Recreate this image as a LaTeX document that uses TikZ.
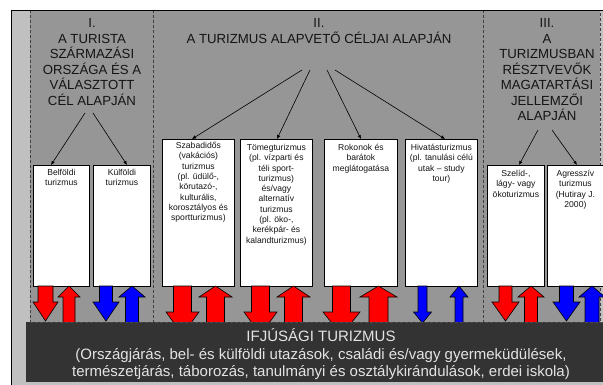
\documentclass[tikz,border=0pt]{standalone}
\usepackage{fontspec}
\setmainfont{Liberation Sans}
\usetikzlibrary{arrows.meta,calc}
\definecolor{lightbg}{HTML}{C0C0C0}
\definecolor{panelgray}{HTML}{969696}
\definecolor{darkbox}{HTML}{333333}
\definecolor{lighttext}{HTML}{E4E4E4}
\definecolor{inktext}{HTML}{141414}
\definecolor{arrred}{HTML}{FF0000}
\definecolor{arrblue}{HTML}{0000FF}
\newcommand\blkdown[6]{%
  \filldraw[fill=#6,draw=black,line width=0.6pt]
    (#1-#2,286) -- (#1-#2,#4) -- (#1-#3,#4) -- (#1,#5) -- (#1+#3,#4) -- (#1+#2,#4) -- (#1+#2,286) -- cycle;}
\newcommand\blkup[4]{%
  \filldraw[fill=#4,draw=black,line width=0.6pt]
    (#1,286) -- (#1+#3,297) -- (#1+#2,297) -- (#1+#2,335) -- (#1-#2,335) -- (#1-#2,297) -- (#1-#3,297) -- cycle;}
\tikzset{
  panel/.style={fill=panelgray,draw=black!75,line width=0.6pt,dash pattern=on 3pt off 2pt},
  titletext/.style={font=\fontsize{13.2}{15.5}\selectfont,text=inktext,align=center,inner sep=0pt,anchor=north},
  catbox/.style={draw=black,fill=white,line width=0.8pt,anchor=north west,inner sep=0pt},
  boxtext/.style={font=\fontsize{8.6}{10.3}\selectfont,text=inktext,align=center,inner sep=0pt,anchor=north},
  conn/.style={draw=black,line width=0.6pt,-{Latex[length=4pt,width=3.5pt]}},
}
\begin{document}
\begin{tikzpicture}[x=1pt,y=-1pt]
\useasboundingbox (0,0) rectangle (603,385);
\clip (0,0) rectangle (603,385);
\fill[white] (0,0) rectangle (603,385);
\fill[lightbg] (11,10) rectangle (603,385);
% panels
\path[panel] (30,10) rectangle (153,322);
\path[panel] (153,10) rectangle (483,322);
\path[panel] (483,10) rectangle (600,322);
\draw[black,line width=0.9pt] (11,385) -- (11,10) -- (603,10);
% titles
\node[titletext] (t1) at (92,18.5) {I.\\A TURISTA\\SZÁRMAZÁSI\\ORSZÁGA ÉS A\\VÁLASZTOTT\\CÉL ALAPJÁN};
\node[titletext] (t2) at (319,18.5) {II.\\A TURIZMUS ALAPVETŐ CÉLJAI ALAPJÁN};
\node[titletext] (t3) at (547,18.5) {III.\\A\\TURIZMUSBAN\\RÉSZTVEVŐK\\MAGATARTÁSI\\JELLEMZŐI\\ALAPJÁN};
% boxes
\node[catbox,minimum width=56,minimum height=121] (bel) at (33,165) {};
\node[catbox,minimum width=57,minimum height=121] (kul) at (93,165) {};
\node[catbox,minimum width=72,minimum height=147] (szab) at (162,139) {};
\node[catbox,minimum width=72,minimum height=147] (tom) at (240,139) {};
\node[catbox,minimum width=73,minimum height=147] (rok) at (324,139) {};
\node[catbox,minimum width=72,minimum height=147] (hiv) at (405,139) {};
\node[catbox,minimum width=57,minimum height=121] (szel) at (487,165) {};
\node[catbox,minimum width=56,minimum height=121] (agr) at (547,165) {};
% box texts
\node[boxtext] (belt) at ([yshift=-4pt]bel.north) {Belföldi\\turizmus};
\node[boxtext] (kult) at ([yshift=-4pt]kul.north) {Külföldi\\turizmus};
\node[boxtext] (szabt) at ([yshift=-3pt]szab.north) {Szabadidős\\(vakációs)\\turizmus\\(pl. üdülő-,\\körutazó-,\\kulturális,\\korosztályos és\\sportturizmus)};
\node[boxtext] (tomt) at ([yshift=-5pt]tom.north) {Tömegturizmus\\(pl. vízparti és\\téli sport-\\turizmus)\\és/vagy\\alternatív\\turizmus\\(pl. öko-,\\kerékpár- és\\kalandturizmus)};
\node[boxtext] (rokt) at ([yshift=-5pt]rok.north) {Rokonok és\\barátok\\meglátogatása};
\node[boxtext] (hivt) at ([yshift=-5pt]hiv.north) {Hivatásturizmus\\(pl. tanulási célú\\utak – study\\tour)};
\node[boxtext] (szelt) at ([yshift=-5pt]szel.north) {Szelíd-,\\lágy- vagy\\ökoturizmus};
\node[boxtext] (agrt) at ([yshift=-5pt]agr.north) {Agresszív\\turizmus\\(Hutiray J.\\2000)};
% connectors
\coordinate (s1a) at (85,113);
\coordinate (s1b) at (93,113);
\coordinate (s2a) at (302,70);
\coordinate (s2b) at (310,70);
\coordinate (s2c) at (327,70);
\coordinate (s2d) at (335,70);
\coordinate (s3a) at (538,130);
\coordinate (s3b) at (552,130);
\draw[conn] (s1a) -- ([xshift=18pt]bel.north west);
\draw[conn] (s1b) -- ([xshift=34pt]kul.north west);
\draw[conn] (s2a) -- ([xshift=30pt]szab.north west);
\draw[conn] (s2b) -- ([xshift=37pt]tom.north west);
\draw[conn] (s2c) -- ([xshift=37pt]rok.north west);
\draw[conn] (s2d) -- ([xshift=40pt]hiv.north west);
\draw[conn] (s3a) -- ([xshift=32pt]szel.north west);
\draw[conn] (s3b) -- ([xshift=30pt]agr.north west);
% block arrows
\blkdown{45.5}{7.5}{12.5}{302}{321}{arrred}
\blkup{69}{6}{11}{arrred}
\blkdown{106}{6.5}{13}{302}{321}{arrblue}
\blkup{132}{6.5}{13}{arrblue}
\blkdown{182.5}{9}{16.5}{312}{335}{arrred}
\blkup{215.5}{9}{16.5}{arrred}
\blkdown{260.5}{9}{16.5}{312}{335}{arrred}
\blkup{293.5}{9}{16.5}{arrred}
\blkdown{341.5}{9}{18.5}{312}{335}{arrred}
\blkup{378.5}{9.5}{18.5}{arrred}
\blkdown{422.5}{4.5}{9}{312}{323}{arrblue}
\blkup{459}{4}{9}{arrblue}
\blkdown{505.5}{6.5}{13.5}{302}{321}{arrred}
\blkup{531}{6.5}{13}{arrred}
\blkdown{566.5}{7}{13.5}{302}{321}{arrblue}
\blkup{592}{7}{13}{arrblue}
% bottom dark box
\fill[darkbox] (26,322) rectangle (615,382);
\draw[black!70,line width=0.6pt,dash pattern=on 3pt off 2pt] (30,322) -- (603,322);
\node[font=\fontsize{15}{17.5}\selectfont,text=lighttext,align=center,inner sep=0pt] (ifj) at (321,354.5)
  {IFJÚSÁGI TURIZMUS\\(Országjárás, bel- és külföldi utazások, családi és/vagy gyermeküdülések,\\természetjárás, táborozás, tanulmányi és osztálykirándulások, erdei iskola)};
\end{tikzpicture}
\end{document}
